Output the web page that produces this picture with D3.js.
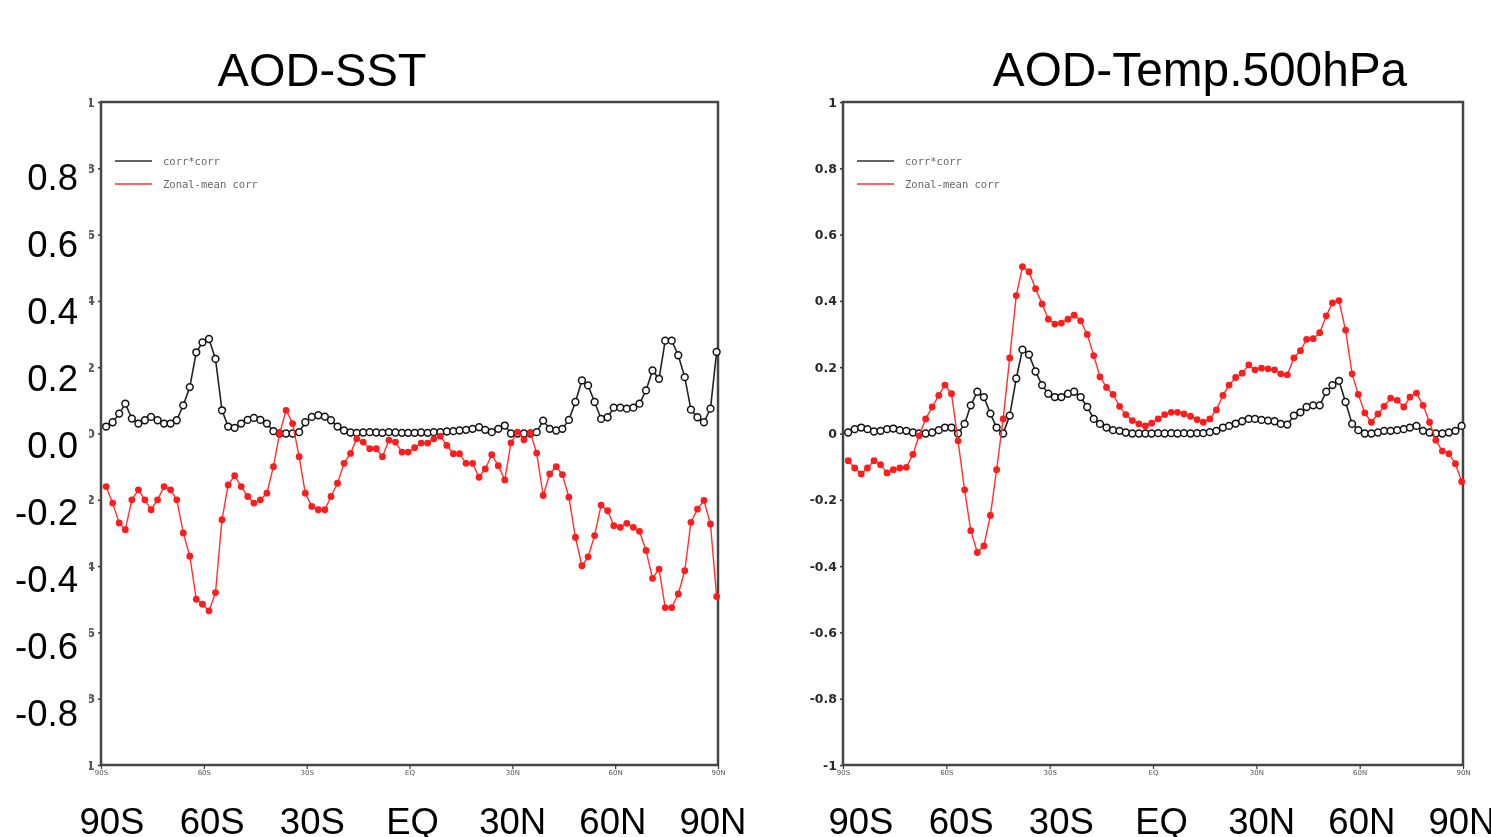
<!DOCTYPE html>
<html>
<head>
<meta charset="utf-8">
<script src="https://cdn.jsdelivr.net/npm/d3@7"></script>
<style>
  body { margin: 0; background: #fff; }
  svg { display: block; }
</style>
</head>
<body>
<script>
// latitudes of the model grid (deg, south negative)
const lats = [
  -88.5, -86.6, -84.7, -82.9, -81.0, -79.1, -77.2, -75.4,
  -73.5, -71.6, -69.7, -67.9, -66.0, -64.1, -62.2, -60.4,
  -58.5, -56.6, -54.7, -52.9, -51.0, -49.1, -47.2, -45.4,
  -43.5, -41.6, -39.7, -37.9, -36.0, -34.1, -32.2, -30.4,
  -28.5, -26.6, -24.7, -22.9, -21.0, -19.1, -17.2, -15.4,
  -13.5, -11.6, -9.7, -7.9, -6.0, -4.1, -2.2, -0.4,
  1.5, 3.4, 5.3, 7.1, 9.0, 10.9, 12.8, 14.6,
  16.5, 18.4, 20.3, 22.1, 24.0, 25.9, 27.8, 29.6,
  31.5, 33.4, 35.3, 37.1, 39.0, 40.9, 42.8, 44.6,
  46.5, 48.4, 50.3, 52.1, 54.0, 55.9, 57.8, 59.6,
  61.5, 63.4, 65.3, 67.1, 69.0, 70.9, 72.8, 74.6,
  76.5, 78.4, 80.3, 82.1, 84.0, 85.9, 87.8, 89.6
];

// AOD-SST
const sstCorr2 = [
  0.021, 0.034, 0.06, 0.09, 0.045, 0.03, 0.04, 0.05,
  0.04, 0.03, 0.03, 0.04, 0.085, 0.14, 0.245, 0.275,
  0.285, 0.225, 0.07, 0.021, 0.017, 0.03, 0.041, 0.047,
  0.041, 0.03, 0.007, 0.0, 0.0, 0.0, 0.004, 0.034,
  0.05, 0.055, 0.051, 0.04, 0.021, 0.009, 0.003, 0.002,
  0.003, 0.004, 0.003, 0.002, 0.004, 0.003, 0.002, 0.002,
  0.002, 0.003, 0.002, 0.004, 0.004, 0.006, 0.007, 0.009,
  0.011, 0.014, 0.019, 0.011, 0.004, 0.014, 0.024, 0.0,
  0.0, 0.0, 0.0, 0.004, 0.039, 0.014, 0.009, 0.014,
  0.041, 0.095, 0.16, 0.145, 0.095, 0.044, 0.049, 0.078,
  0.078, 0.075, 0.078, 0.09, 0.13, 0.19, 0.165, 0.28,
  0.28, 0.236, 0.17, 0.072, 0.049, 0.034, 0.075, 0.246
];
const sstZonal = [
  -0.16, -0.21, -0.27, -0.29, -0.20, -0.17, -0.20, -0.23,
  -0.20, -0.16, -0.17, -0.20, -0.30, -0.37, -0.50, -0.515,
  -0.535, -0.48, -0.26, -0.155, -0.127, -0.16, -0.19, -0.21,
  -0.20, -0.18, -0.10, 0.0, 0.07, 0.03, -0.07, -0.18,
  -0.22, -0.23, -0.23, -0.19, -0.15, -0.09, -0.06, -0.016,
  -0.026, -0.046, -0.046, -0.07, -0.02, -0.026, -0.056, -0.056,
  -0.043, -0.029, -0.029, -0.016, -0.008, -0.036, -0.061, -0.061,
  -0.09, -0.09, -0.132, -0.107, -0.064, -0.097, -0.14, -0.028,
  0.004, -0.019, 0.001, -0.059, -0.187, -0.122, -0.10, -0.124,
  -0.192, -0.313, -0.399, -0.372, -0.308, -0.216, -0.233, -0.278,
  -0.283, -0.271, -0.283, -0.295, -0.353, -0.437, -0.409, -0.525,
  -0.525, -0.484, -0.414, -0.268, -0.228, -0.202, -0.273, -0.492
];

// AOD-Temp.500hPa
const tempCorr2 = [
  0.003, 0.013, 0.018, 0.013, 0.006, 0.008, 0.013, 0.015,
  0.01, 0.008, 0.003, 0.0, 0.0, 0.003, 0.01, 0.018,
  0.018, 0.0, 0.029, 0.085, 0.126, 0.11, 0.06, 0.018,
  0.0, 0.054, 0.166, 0.253, 0.238, 0.187, 0.146, 0.12,
  0.11, 0.11, 0.12, 0.126, 0.11, 0.08, 0.044, 0.029,
  0.018, 0.01, 0.008, 0.003, 0.0, 0.0, 0.0, 0.0,
  0.001, 0.0, 0.001, 0.0, 0.001, 0.0, 0.001, 0.001,
  0.004, 0.008, 0.018, 0.023, 0.03, 0.037, 0.044, 0.044,
  0.041, 0.039, 0.037, 0.029, 0.027, 0.054, 0.064, 0.08,
  0.085, 0.085, 0.126, 0.146, 0.159, 0.095, 0.029, 0.01,
  0.0, 0.0, 0.003, 0.008, 0.008, 0.01, 0.013, 0.018,
  0.023, 0.008, 0.003, 0.0, 0.0, 0.003, 0.008, 0.023
];
const tempZonal = [
  -0.082, -0.104, -0.122, -0.104, -0.082, -0.094, -0.119, -0.109,
  -0.104, -0.102, -0.063, -0.007, 0.044, 0.08, 0.115, 0.146,
  0.12, -0.022, -0.17, -0.293, -0.359, -0.339, -0.247, -0.109,
  0.044, 0.228, 0.416, 0.503, 0.488, 0.437, 0.391, 0.345,
  0.33, 0.333, 0.345, 0.357, 0.34, 0.299, 0.235, 0.171,
  0.139, 0.118, 0.082, 0.057, 0.039, 0.029, 0.023, 0.031,
  0.044, 0.057, 0.064, 0.064, 0.059, 0.052, 0.042, 0.034,
  0.044, 0.071, 0.115, 0.146, 0.169, 0.182, 0.207, 0.192,
  0.197, 0.195, 0.192, 0.18, 0.177, 0.228, 0.25, 0.284,
  0.286, 0.304, 0.355, 0.394, 0.401, 0.312, 0.18, 0.118,
  0.062, 0.034, 0.059, 0.082, 0.107, 0.1, 0.08, 0.11,
  0.122, 0.085, 0.034, -0.02, -0.053, -0.061, -0.091, -0.145
];

const yTicks = [1, 0.8, 0.6, 0.4, 0.2, 0, -0.2, -0.4, -0.6, -0.8, -1];
const yTickLabels = ['1', '0.8', '0.6', '0.4', '0.2', '0', '-0.2', '-0.4', '-0.6', '-0.8', '-1'];
const bigYTicks = [0.8, 0.6, 0.4, 0.2, 0, -0.2, -0.4, -0.6, -0.8];
const bigYLabels = ['0.8', '0.6', '0.4', '0.2', '0.0', '-0.2', '-0.4', '-0.6', '-0.8'];
const xTicks = [-90, -60, -30, 0, 30, 60, 90];
const xTickLabels = ['90S', '60S', '30S', 'EQ', '30N', '60N', '90N'];
const legendLabels = ['corr*corr', 'Zonal-mean corr'];
const titles = ['AOD-SST', 'AOD-Temp.500hPa'];

const width = 1491;
const height = 837;
const font = '"Liberation Sans", Arial, sans-serif';

const svg = d3.select('body')
  .append('svg')
    .attr('width', width)
    .attr('height', height);

const defs = svg.append('defs');
defs.append('filter')
    .attr('id', 'soft')
  .append('feGaussianBlur')
    .attr('stdDeviation', 0.45);
// in the local space of the left y axis group (origin on the frame)
defs.append('clipPath')
    .attr('id', 'cut-left')
  .append('rect')
    .attr('x', -12)
    .attr('y', 90)
    .attr('width', 12)
    .attr('height', 690);

const panels = [
  { left: 101, right: 718, top: 102, bottom: 765, titleX: 322, labelRange: [112, 713],
    corr2: sstCorr2, zonal: sstZonal, bigY: true },
  { left: 843, right: 1463, top: 102, bottom: 765, titleX: 1200, labelRange: [861, 1462],
    corr2: tempCorr2, zonal: tempZonal, bigY: false }
];

const drawPanel = (p, n) => {
  const x = d3.scaleLinear().domain([-90, 90]).range([p.left, p.right]);
  const y = d3.scaleLinear().domain([-1, 1]).range([p.bottom, p.top]);

  const g = svg.append('g').attr('class', `panel-${n}`);
  const plot = g.append('g').attr('filter', 'url(#soft)');

  // small GrADS axis labels; on the left panel only the last glyph peeks out
  // from under the big pasted labels
  const yAxis = d3.axisLeft(y)
    .tickValues(yTicks)
    .tickFormat((d, i) => p.bigY ? yTickLabels[i].slice(-1) : yTickLabels[i])
    .tickSize(3)
    .tickSizeOuter(0)
    .tickPadding(3);

  const ya = plot.append('g')
    .attr('class', 'axis-y')
    .attr('transform', `translate(${p.left}, 0)`)
    .call(yAxis);
  ya.select('.domain').remove();
  ya.selectAll('line').attr('stroke', '#333').attr('stroke-width', 1.5);
  ya.selectAll('text')
    .attr('fill', '#2a2a2a')
    .style('font-family', '"DejaVu Sans", sans-serif')
    .style('font-weight', 'bold')
    .style('font-size', '12.5px');
  if (p.bigY) {
    ya.attr('clip-path', 'url(#cut-left)');
    ya.selectAll('text').attr('fill', '#555');
  }

  const xAxis = d3.axisBottom(x)
    .tickValues(xTicks)
    .tickFormat((d, i) => xTickLabels[i])
    .tickSize(4)
    .tickSizeOuter(0)
    .tickPadding(1);

  const xa = plot.append('g')
    .attr('class', 'axis-x')
    .attr('transform', `translate(0, ${p.bottom})`)
    .call(xAxis);
  xa.select('.domain').remove();
  xa.selectAll('line').attr('stroke', '#333').attr('stroke-width', 1.2);
  xa.selectAll('text')
    .attr('fill', '#555')
    .style('font-family', '"DejaVu Sans", sans-serif')
    .style('font-size', '7px');

  // frame
  plot.append('rect')
    .attr('x', p.left)
    .attr('y', p.top)
    .attr('width', p.right - p.left)
    .attr('height', p.bottom - p.top)
    .attr('fill', 'none')
    .attr('stroke', '#444')
    .attr('stroke-width', 2.5);

  // legend
  const legendColors = ['#333', '#ff3030'];
  legendLabels.forEach((label, i) => {
    const ly = 161 + i * 23;
    plot.append('line')
      .attr('x1', p.left + 14)
      .attr('x2', p.left + 51)
      .attr('y1', ly)
      .attr('y2', ly)
      .attr('stroke', legendColors[i])
      .attr('stroke-width', 1.4);
    plot.append('text')
      .attr('x', p.left + 62)
      .attr('y', ly)
      .attr('dy', '0.35em')
      .attr('fill', '#666')
      .style('font-family', '"DejaVu Sans Mono", monospace')
      .style('font-size', '10.5px')
      .text(label);
  });

  const line = d3.line()
    .x((d, i) => x(lats[i]))
    .y(d => y(d));

  // corr*corr
  plot.append('path')
    .datum(p.corr2)
    .attr('d', line)
    .attr('fill', 'none')
    .attr('stroke', '#222')
    .attr('stroke-width', 1.6);
  plot.selectAll('.dot-corr2')
    .data(p.corr2)
    .enter()
    .append('circle')
      .attr('class', 'dot-corr2')
      .attr('cx', (d, i) => x(lats[i]))
      .attr('cy', d => y(d))
      .attr('r', 3.4)
      .attr('fill', '#fff')
      .attr('stroke', '#111')
      .attr('stroke-width', 1.5);

  // zonal-mean corr
  plot.append('path')
    .datum(p.zonal)
    .attr('d', line)
    .attr('fill', 'none')
    .attr('stroke', '#ff3030')
    .attr('stroke-width', 1.4);
  plot.selectAll('.dot-zonal')
    .data(p.zonal)
    .enter()
    .append('circle')
      .attr('class', 'dot-zonal')
      .attr('cx', (d, i) => x(lats[i]))
      .attr('cy', d => y(d))
      .attr('r', 3.4)
      .attr('fill', '#ff1a1a');

  // big overlaid labels
  g.append('text')
    .attr('x', p.titleX)
    .attr('y', 86)
    .attr('text-anchor', 'middle')
    .style('font-family', font)
    .style('font-size', n === 0 ? '47px' : '47.8px')
    .text(titles[n]);

  const xl = d3.scaleLinear().domain([-90, 90]).range(p.labelRange);
  g.selectAll('.big-x')
    .data(xTicks)
    .enter()
    .append('text')
      .attr('class', 'big-x')
      .attr('x', d => xl(d))
      .attr('y', 834)
      .attr('text-anchor', 'middle')
      .style('font-family', font)
      .style('font-size', '36.5px')
      .text((d, i) => xTickLabels[i]);

  if (p.bigY) {
    const yl = d3.scaleLinear().domain([0.8, -0.8]).range([177, 713]);
    g.selectAll('.big-y')
      .data(bigYTicks)
      .enter()
      .append('text')
        .attr('class', 'big-y')
        .attr('x', 78)
        .attr('y', d => yl(d))
        .attr('dy', '0.36em')
        .attr('text-anchor', 'end')
        .style('font-family', font)
        .style('font-size', '36.5px')
        .text((d, i) => bigYLabels[i]);
  }
};

panels.forEach(drawPanel);
</script>
</body>
</html>
